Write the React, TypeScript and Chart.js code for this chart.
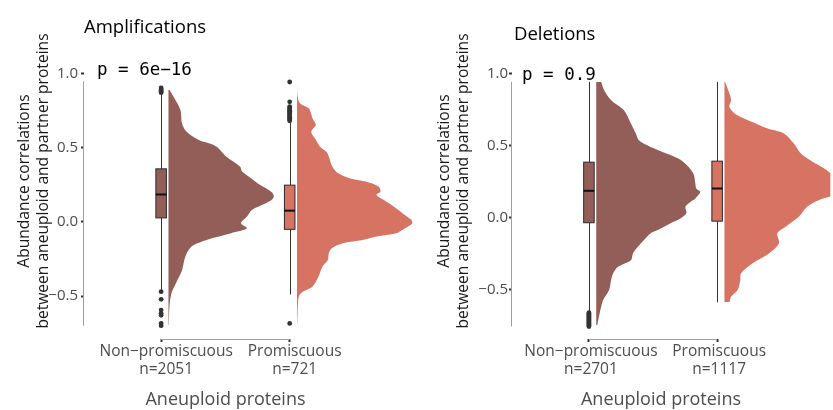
import { useEffect, useRef } from 'react';
import { Chart, registerables } from 'chart.js';

Chart.register(...registerables);

// ---- data -------------------------------------------------------------
const groupNames = ['Non−promiscuous', 'Promiscuous'];
const ampCounts = [2051, 721];
const delCounts = [2701, 1117];
const yTickValues = [-0.5, 0, 0.5, 1];

// Box statistics: [lower whisker, Q1, median, Q3, upper whisker]
const ampNonPromBox = [-0.465, 0.027, 0.185, 0.358, 0.86];
const ampPromBox = [-0.49, -0.05, 0.076, 0.248, 0.667];
const delNonPromBox = [-0.655, -0.037, 0.185, 0.384, 0.942];
const delPromBox = [-0.59, -0.026, 0.201, 0.391, 0.942];

const ampNonPromOutliers = [0.872, 0.88, 0.888, 0.896, 0.904, -0.471, -0.522, -0.595, -0.617, -0.63, -0.685, -0.7];
const ampPromOutliers = [0.944, 0.81, 0.778, 0.77, 0.762, 0.754, 0.746, 0.738, 0.73, 0.722, 0.714, 0.706, 0.698, 0.69, 0.682, -0.685];
const delNonPromOutliers = [-0.662, -0.668, -0.675, -0.682, -0.689, -0.696, -0.703, -0.71, -0.717, -0.724, -0.731, -0.738, -0.745, -0.752, -0.758];
const delPromOutliers: number[] = [];

// Half-violin density profiles: correlation levels (top to bottom) and density
const ampNonPromLevels = [0.892, 0.757, 0.667, 0.61, 0.554, 0.52, 0.498, 0.441, 0.374, 0.34, 0.3, 0.25, 0.2, 0.171, 0.149, 0.126, 0.081, 0.036, -0.009, -0.043, -0.076, -0.12, -0.167, -0.234, -0.33, -0.414, -0.482, -0.572, -0.696];
const ampNonPromDensity = [0.01, 0.12, 0.135, 0.18, 0.3, 0.45, 0.5, 0.58, 0.72, 0.74, 0.82, 0.92, 1.04, 1.06, 1.04, 0.98, 0.84, 0.79, 0.73, 0.79, 0.63, 0.39, 0.23, 0.17, 0.135, 0.075, 0.03, 0.01, 0.003];

const ampPromLevels = [0.948, 0.85, 0.8, 0.765, 0.734, 0.7, 0.655, 0.62, 0.6, 0.554, 0.509, 0.47, 0.441, 0.374, 0.33, 0.295, 0.272, 0.239, 0.205, 0.182, 0.149, 0.1, 0.059, 0.014, -0.009, -0.03, -0.054, -0.076, -0.099, -0.122, -0.144, -0.178, -0.21, -0.257, -0.302, -0.37, -0.437, -0.47, -0.5, -0.55, -0.685];
const ampPromDensity = [0.0, 0.005, 0.03, 0.12, 0.14, 0.155, 0.19, 0.15, 0.145, 0.19, 0.23, 0.3, 0.32, 0.355, 0.41, 0.53, 0.69, 0.82, 0.84, 0.8, 0.87, 0.98, 1.06, 1.15, 1.16, 1.12, 1.06, 1.0, 0.8, 0.66, 0.46, 0.35, 0.32, 0.31, 0.255, 0.215, 0.155, 0.06, 0.02, 0.01, 0.003];

const delNonPromLevels = [0.942, 0.884, 0.815, 0.745, 0.653, 0.583, 0.537, 0.49, 0.433, 0.386, 0.306, 0.236, 0.2, 0.178, 0.132, 0.108, 0.074, 0.03, -0.007, -0.04, -0.088, -0.11, -0.158, -0.204, -0.25, -0.297, -0.343, -0.39, -0.435, -0.505, -0.574, -0.62, -0.667, -0.748];
const delNonPromDensity = [0.05, 0.08, 0.15, 0.28, 0.35, 0.4, 0.43, 0.55, 0.75, 0.88, 0.98, 1.0, 1.01, 1.05, 1.0, 0.95, 0.9, 0.91, 0.85, 0.75, 0.62, 0.55, 0.48, 0.42, 0.37, 0.35, 0.22, 0.17, 0.15, 0.13, 0.07, 0.05, 0.034, 0.01];

const delPromLevels = [0.942, 0.861, 0.815, 0.768, 0.71, 0.664, 0.62, 0.584, 0.514, 0.445, 0.398, 0.33, 0.29, 0.22, 0.15, 0.12, 0.074, 0.004, -0.065, -0.111, -0.18, -0.25, -0.32, -0.389, -0.435, -0.505, -0.551, -0.59];
const delPromDensity = [0.007, 0.05, 0.067, 0.05, 0.13, 0.28, 0.43, 0.6, 0.7, 0.77, 0.866, 1.03, 1.1, 1.22, 1.08, 0.95, 0.833, 0.75, 0.617, 0.533, 0.55, 0.45, 0.28, 0.166, 0.16, 0.133, 0.067, 0.05];

// ---- styling ------------------------------------------------------------
const NON_PROM_COLOR = '#945E58';
const PROM_COLOR = '#D67363';
const SANS = "'Open Sans', 'DejaVu Sans', sans-serif";
const MONO = "'DejaVu Sans Mono', monospace";
const BOX_HALF = 0.041;      // box half-width in category units
const VIOLIN_GAP = 0.057;    // gap between category centre and violin base
const VIOLIN_SCALE = 0.773;  // category units per density unit

type Group = { levels: number[]; density: number[]; box: number[]; outliers: number[]; color: string };
type Panel = {
  title: string;
  pLabel: string;
  counts: number[];
  groups: Group[];
  width: number;
  axisWidth: number;
  xMin: number;
  xMax: number;
  yMin: number;
  yMax: number;
  tickPad: number;
  labelOffset: number;
  titlePos: [number, number];
  pPos: [number, number];
  yTitlePos: [number, number];
  xTitleX: number;
};

const amplifications: Panel = {
  title: 'Amplifications',
  pLabel: 'p = 6e−16',
  counts: ampCounts,
  groups: [
    { levels: ampNonPromLevels, density: ampNonPromDensity, box: ampNonPromBox, outliers: ampNonPromOutliers, color: NON_PROM_COLOR },
    { levels: ampPromLevels, density: ampPromDensity, box: ampPromBox, outliers: ampPromOutliers, color: PROM_COLOR },
  ],
  width: 420,
  axisWidth: 84,
  xMin: 0.4,
  xMax: 2.995,
  yMin: -0.79,
  yMax: 1.035,
  tickPad: 3,
  labelOffset: 5,
  titlePos: [84, 33],
  pPos: [97, 75],
  yTitlePos: [25, 181],
  xTitleX: 225.5,
};

const deletions: Panel = {
  title: 'Deletions',
  pLabel: 'p = 0.9',
  counts: delCounts,
  groups: [
    { levels: delNonPromLevels, density: delNonPromDensity, box: delNonPromBox, outliers: delNonPromOutliers, color: NON_PROM_COLOR },
    { levels: delPromLevels, density: delPromDensity, box: delPromBox, outliers: delPromOutliers, color: PROM_COLOR },
  ],
  width: 413,
  axisWidth: 92,
  xMin: 0.4,
  xMax: 2.885,
  yMin: -0.845,
  yMax: 1.035,
  tickPad: 1,
  labelOffset: 2,
  titlePos: [94, 40],
  pPos: [102, 80],
  yTitlePos: [25, 181],
  xTitleX: 241,
};

const fmtTick = (v: number) => (v < 0 ? '−' : '') + Math.abs(v).toFixed(1);

function buildConfig(panel: Panel): any {
  const datasets: any[] = [];
  panel.groups.forEach((g, i) => {
    const base = i + 1 + VIOLIN_GAP;
    datasets.push({
      type: 'line',
      indexAxis: 'y',
      data: g.levels.map((v, k) => ({ x: base + g.density[k] * VIOLIN_SCALE, y: v })),
      fill: { value: base },
      backgroundColor: g.color,
      borderColor: 'rgba(0,0,0,0)',
      borderWidth: 0,
      pointRadius: 0,
      pointHoverRadius: 0,
      tension: 0.3,
    });
    datasets.push({
      type: 'scatter',
      data: g.outliers.map((v) => ({ x: i + 1, y: v })),
      backgroundColor: '#333333',
      borderWidth: 0,
      pointRadius: 2.4,
      pointHoverRadius: 2.4,
    });
  });

  // data extent for the capped axis line
  const allValues = panel.groups.flatMap((g) => [...g.levels, ...g.outliers, ...g.box]);
  const dataMax = Math.max(...allValues);
  const dataMin = Math.min(...allValues);

  const decorations = {
    id: 'raincloudDecor',
    beforeDatasetsDraw(chart: any) {
      const { ctx } = chart;
      const x = chart.scales.x;
      const y = chart.scales.y;
      panel.groups.forEach((g, i) => {
        const [lo, q1, med, q3, hi] = g.box;
        const c = i + 1;
        const cx = Math.round(x.getPixelForValue(c)) + 0.5;
        ctx.save();
        ctx.strokeStyle = '#333333';
        ctx.lineWidth = 1;
        ctx.beginPath();
        ctx.moveTo(cx, y.getPixelForValue(hi));
        ctx.lineTo(cx, y.getPixelForValue(q3));
        ctx.moveTo(cx, y.getPixelForValue(q1));
        ctx.lineTo(cx, y.getPixelForValue(lo));
        ctx.stroke();
        const left = x.getPixelForValue(c - BOX_HALF);
        const right = x.getPixelForValue(c + BOX_HALF);
        const top = y.getPixelForValue(q3);
        const bottom = y.getPixelForValue(q1);
        ctx.fillStyle = g.color;
        ctx.fillRect(left, top, right - left, bottom - top);
        ctx.strokeStyle = '#2a2a2a';
        ctx.strokeRect(left, top, right - left, bottom - top);
        ctx.lineWidth = 2;
        ctx.strokeStyle = '#111111';
        ctx.beginPath();
        ctx.moveTo(left, y.getPixelForValue(med));
        ctx.lineTo(right, y.getPixelForValue(med));
        ctx.stroke();
        ctx.restore();
      });
    },
    afterDraw(chart: any) {
      const { ctx, chartArea } = chart;
      const x = chart.scales.x;
      const y = chart.scales.y;
      ctx.save();
      // capped axis lines
      ctx.strokeStyle = '#9e9e9e';
      ctx.lineWidth = 1;
      ctx.beginPath();
      const ax = Math.round(chartArea.left) - 0.5;
      ctx.moveTo(ax, y.getPixelForValue(dataMax));
      ctx.lineTo(ax, y.getPixelForValue(dataMin));
      const ay = Math.round(chartArea.bottom) + 0.5;
      ctx.moveTo(x.getPixelForValue(1), ay);
      ctx.lineTo(x.getPixelForValue(2), ay);
      ctx.stroke();

      // panel title
      ctx.fillStyle = '#000000';
      ctx.textAlign = 'left';
      ctx.textBaseline = 'alphabetic';
      ctx.font = `18.5px ${SANS}`;
      ctx.fillText(panel.title, panel.titlePos[0], panel.titlePos[1]);

      // test annotation
      ctx.font = `17.5px ${MONO}`;
      ctx.fillText(panel.pLabel, panel.pPos[0], panel.pPos[1]);

      // x axis title
      ctx.fillStyle = '#4D4D4D';
      ctx.textAlign = 'center';
      ctx.font = `18px ${SANS}`;
      ctx.fillText('Aneuploid proteins', panel.xTitleX, 405);

      // y axis title (two lines, rotated)
      ctx.fillStyle = '#1a1a1a';
      ctx.font = `15.6px ${SANS}`;
      ctx.textBaseline = 'middle';
      ctx.translate(panel.yTitlePos[0], panel.yTitlePos[1]);
      ctx.rotate(-Math.PI / 2);
      ctx.fillText('Abundance correlations', 0, 0);
      ctx.fillText('between aneuploid and partner proteins', 0, 19);
      ctx.restore();
    },
  };

  return {
    type: 'line',
    data: { datasets },
    options: {
      animation: false,
      responsive: false,
      devicePixelRatio: 1,
      events: [],
      layout: { padding: { top: 68.5, right: 0, bottom: 0, left: 0 } },
      plugins: { legend: { display: false }, tooltip: { enabled: false }, title: { display: false } },
      scales: {
        x: {
          type: 'linear',
          position: 'bottom',
          min: panel.xMin,
          max: panel.xMax,
          border: { display: false },
          grid: { drawOnChartArea: false, drawTicks: true, tickLength: 3, tickColor: '#333333', tickWidth: 2 },
          afterBuildTicks: (scale: any) => {
            scale.ticks = [{ value: 1 }, { value: 2 }];
          },
          afterFit: (scale: any) => {
            scale.height = 71;
          },
          ticks: {
            padding: 1,
            labelOffset: panel.labelOffset,
            maxRotation: 0,
            autoSkip: false,
            color: '#4D4D4D',
            font: { family: SANS, size: 15.5, lineHeight: 1.15 },
            callback: (_v: number, i: number) => [groupNames[i], `n=${panel.counts[i]}`],
          },
        },
        y: {
          type: 'linear',
          position: 'left',
          min: panel.yMin,
          max: panel.yMax,
          border: { display: false },
          grid: { drawOnChartArea: false, drawTicks: true, tickLength: 3, tickColor: '#333333', tickWidth: 2 },
          afterBuildTicks: (scale: any) => {
            scale.ticks = yTickValues.map((v) => ({ value: v }));
          },
          afterFit: (scale: any) => {
            scale.width = panel.axisWidth;
          },
          ticks: {
            padding: panel.tickPad,
            color: '#4D4D4D',
            font: { family: SANS, size: 15 },
            callback: (v: number) => fmtTick(v),
          },
        },
      },
    },
    plugins: [decorations],
  };
}

function RaincloudPanel({ panel }: { panel: Panel }) {
  const ref = useRef<HTMLCanvasElement>(null);
  useEffect(() => {
    const chart = new Chart(ref.current as HTMLCanvasElement, buildConfig(panel));
    return () => chart.destroy();
  }, [panel]);
  return (
    <canvas
      ref={ref}
      width={panel.width}
      height={410}
      style={{ display: 'block', width: panel.width, height: 410 }}
    />
  );
}

export default function App() {
  return (
    <div
      style={{
        position: 'fixed',
        left: 0,
        top: 0,
        width: 833,
        height: 410,
        display: 'flex',
        background: '#ffffff',
        overflow: 'hidden',
      }}
    >
      <RaincloudPanel panel={amplifications} />
      <RaincloudPanel panel={deletions} />
    </div>
  );
}
